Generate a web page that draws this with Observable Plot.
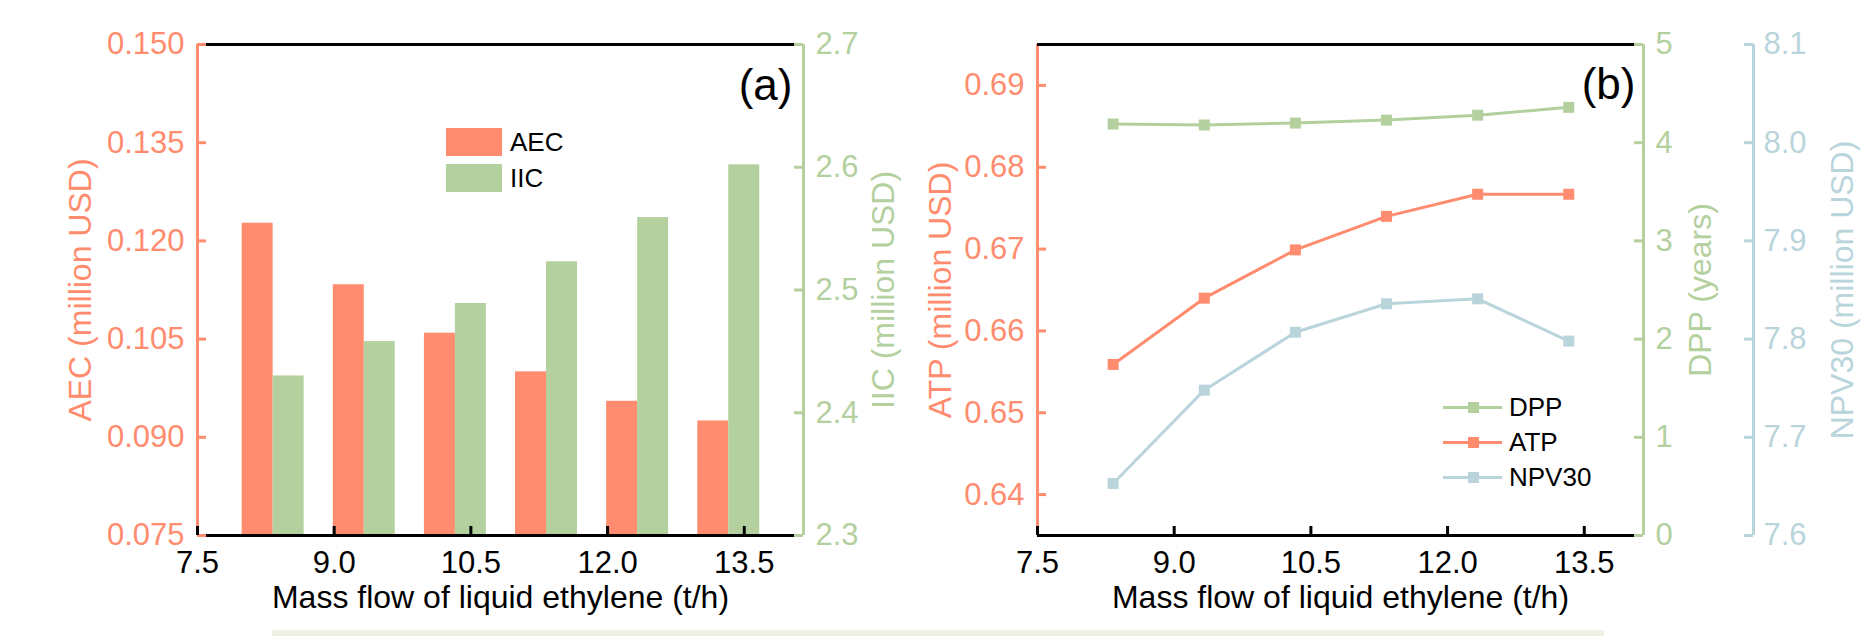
<!DOCTYPE html>
<html>
<head>
<meta charset="utf-8">
<script src="https://cdn.jsdelivr.net/npm/d3@7"></script>
<script src="https://cdn.jsdelivr.net/npm/@observablehq/plot@0.6"></script>
<style>
  body { margin: 0; background: #fff; }
  #chart { position: relative; width: 1861px; height: 636px; background: #fff; overflow: hidden;
           font-family: "Liberation Sans", Arial, sans-serif; }
  #chart svg { position: absolute; left: 0; top: 0; background: transparent !important; }
  .lg { position: absolute; font-size: 26px; line-height: 26px; color: #000; white-space: nowrap; }
  .sw { position: absolute; }
</style>
</head>
<body>
<div id="chart"></div>
<script>
// ---------------- data ----------------
const flow   = [8.33, 9.33, 10.33, 11.33, 12.33, 13.33];          // t/h
const aec    = [0.1227, 0.1133, 0.1059, 0.1000, 0.0955, 0.0925];   // million USD
const iic    = [2.430, 2.458, 2.489, 2.523, 2.559, 2.602];         // million USD
const atp    = [0.6559, 0.6640, 0.6699, 0.6740, 0.6767, 0.6767];   // million USD
const dpp    = [4.19, 4.18, 4.20, 4.23, 4.28, 4.36];               // years
const npv30  = [7.653, 7.748, 7.807, 7.836, 7.841, 7.798];         // million USD

const xTicks   = [7.5, 9.0, 10.5, 12.0, 13.5];
const aecTicks = [0.075, 0.090, 0.105, 0.120, 0.135, 0.150];
const iicTicks = [2.3, 2.4, 2.5, 2.6, 2.7];
const atpTicks = [0.64, 0.65, 0.66, 0.67, 0.68, 0.69];
const dppTicks = [0, 1, 2, 3, 4, 5];
const npvTicks = [7.6, 7.7, 7.8, 7.9, 8.0, 8.1];

const xDomain   = [7.5, 14.15];
const aecDomain = [0.075, 0.150];
const iicDomain = [2.3, 2.7];
const atpDomain = [0.635, 0.695];
const dppDomain = [0, 5];
const npvDomain = [7.6, 8.1];

const rows = flow.map((f, i) => ({flow: f, aec: aec[i], iic: iic[i], atp: atp[i], dpp: dpp[i], npv: npv30[i]}));

// ---------------- style ----------------
const SALMON = "#FF8C6E", GREEN = "#B3D09E", BLUE = "#B9D5DB";
const W = 1861, H = 636;
const FONT = "'Liberation Sans', Arial, sans-serif";
const barW = 0.34;
const TICK = 9;
const chart = document.getElementById("chart");

const PA = {marginLeft: 197, marginRight: W - 803, marginTop: 44, marginBottom: H - 535};
const PB = {marginLeft: 1037, marginRight: W - 1643, marginTop: 44, marginBottom: H - 535};
const plotW = 606, plotH = 491;

function layer(m, yDomain, marks, showX) {
  const svg = Plot.plot({
    width: W, height: H, ...m,
    x: {domain: xDomain, ...(showX ? {} : {axis: null})},
    y: {domain: yDomain},
    style: {background: "transparent", fontFamily: FONT, overflow: "visible"},
    marks
  });
  svg.style.background = "transparent";
  chart.appendChild(svg);
}

function vTitle(label, anchor, dx, color) {
  return Plot.text([label], {frameAnchor: anchor, textAnchor: "middle", lineAnchor: "middle",
                             rotate: -90, dx, fontSize: 32, fill: color, text: d => d});
}

const xAxisMarks = [
  Plot.axisX({ticks: xTicks, tickFormat: d3.format(".1f"), tickSize: 0, tickPadding: 15,
              fontSize: 31, color: "#000", label: null}),
  Plot.text(["Mass flow of liquid ethylene (t/h)"], {frameAnchor: "bottom", textAnchor: "middle",
              lineAnchor: "middle", dy: 62, fontSize: 32, fill: "#000", text: d => d})
];

// ---------------- panel (a) ----------------
layer(PA, aecDomain, [
  Plot.rectY(rows, {x1: d => d.flow - barW, x2: d => d.flow, y1: aecDomain[0], y2: "aec", fill: SALMON}),
  Plot.ruleX([xDomain[0]], {stroke: SALMON, strokeWidth: 3}),
  Plot.tickY(aecTicks, {y: d => d, stroke: SALMON, strokeWidth: 3, insetRight: plotW - TICK}),
  Plot.axisY({ticks: aecTicks, tickFormat: d3.format(".3f"), tickSize: 0, tickPadding: 13,
              fontSize: 31, color: SALMON, label: null}),
  vTitle("AEC (million USD)", "left", -117, SALMON),
  ...xAxisMarks
], true);

layer(PA, iicDomain, [
  Plot.rectY(rows, {x1: d => d.flow, x2: d => d.flow + barW, y1: iicDomain[0], y2: "iic", fill: GREEN}),
  Plot.ruleY(iicDomain, {stroke: "#000", strokeWidth: 3, insetLeft: TICK, insetRight: TICK}),
  Plot.tickX(xTicks, {x: d => d, stroke: "#000", strokeWidth: 3, insetTop: plotH - TICK}),
  Plot.ruleX([xDomain[1]], {stroke: GREEN, strokeWidth: 3}),
  Plot.tickY(iicTicks, {y: d => d, stroke: GREEN, strokeWidth: 3, insetLeft: plotW - TICK}),
  Plot.axisY({anchor: "right", ticks: iicTicks, tickFormat: d3.format(".1f"), tickSize: 0, tickPadding: 12,
              fontSize: 31, color: GREEN, label: null}),
  vTitle("IIC (million USD)", "right", 80, GREEN),
  Plot.text(["(a)"], {frameAnchor: "top-right", textAnchor: "end", lineAnchor: "bottom", dx: -11, dy: 55,
              fontSize: 44, fill: "#000", text: d => d})
], false);

// ---------------- panel (b) ----------------
layer(PB, atpDomain, [
  Plot.line(rows, {x: "flow", y: "atp", stroke: SALMON, strokeWidth: 3}),
  Plot.dot(rows, {x: "flow", y: "atp", symbol: "square", r: 6.2, fill: SALMON}),
  Plot.ruleX([xDomain[0]], {stroke: SALMON, strokeWidth: 3}),
  Plot.tickY(atpTicks, {y: d => d, stroke: SALMON, strokeWidth: 3, insetRight: plotW - TICK}),
  Plot.axisY({ticks: atpTicks, tickFormat: d3.format(".2f"), tickSize: 0, tickPadding: 13,
              fontSize: 31, color: SALMON, label: null}),
  vTitle("ATP (million USD)", "left", -97, SALMON),
  ...xAxisMarks
], true);

layer(PB, dppDomain, [
  Plot.line(rows, {x: "flow", y: "dpp", stroke: GREEN, strokeWidth: 3}),
  Plot.dot(rows, {x: "flow", y: "dpp", symbol: "square", r: 6.2, fill: GREEN}),
  Plot.ruleX([xDomain[1]], {stroke: GREEN, strokeWidth: 3}),
  Plot.tickY(dppTicks, {y: d => d, stroke: GREEN, strokeWidth: 3, insetLeft: plotW - TICK}),
  Plot.axisY({anchor: "right", ticks: dppTicks, tickFormat: d3.format("d"), tickSize: 0, tickPadding: 12,
              fontSize: 31, color: GREEN, label: null}),
  vTitle("DPP (years)", "right", 57, GREEN)
], false);

layer(PB, npvDomain, [
  Plot.line(rows, {x: "flow", y: "npv", stroke: BLUE, strokeWidth: 3}),
  Plot.dot(rows, {x: "flow", y: "npv", symbol: "square", r: 6.2, fill: BLUE}),
  Plot.ruleY(npvDomain, {stroke: "#000", strokeWidth: 3, insetRight: TICK}),
  Plot.tickX(xTicks, {x: d => d, stroke: "#000", strokeWidth: 3, insetTop: plotH - TICK}),
  Plot.ruleX([xDomain[1]], {stroke: BLUE, strokeWidth: 3, dx: 110}),
  Plot.tickY(npvTicks, {y: d => d, stroke: BLUE, strokeWidth: 3, insetLeft: plotW - TICK, dx: 110}),
  Plot.axisY({anchor: "right", ticks: npvTicks, tickFormat: d3.format(".1f"), tickSize: 0, tickPadding: 10,
              dx: 110, fontSize: 31, color: BLUE, label: null}),
  vTitle("NPV30 (million USD)", "right", 199, BLUE),
  Plot.text(["(b)"], {frameAnchor: "top-right", textAnchor: "end", lineAnchor: "bottom", dx: -8, dy: 54,
              fontSize: 44, fill: "#000", text: d => d})
], false);

// ---------------- legends (HTML) ----------------
function el(cls, css, text) {
  const d = document.createElement("div");
  d.className = cls;
  Object.assign(d.style, css);
  if (text) d.textContent = text;
  chart.appendChild(d);
}
const legendA = [["AEC", SALMON, 128], ["IIC", GREEN, 164]];
legendA.forEach(([name, c, top]) => {
  el("sw", {left: "446px", top: top + "px", width: "56px", height: "28px", background: c});
  el("lg", {left: "510px", top: (top + 1) + "px"}, name);
});
const legendB = [["DPP", GREEN, 407], ["ATP", SALMON, 442], ["NPV30", BLUE, 477]];
legendB.forEach(([name, c, cy]) => {
  el("sw", {left: "1443px", top: (cy - 1.5) + "px", width: "59px", height: "3px", background: c});
  el("sw", {left: "1467.5px", top: (cy - 5.5) + "px", width: "11px", height: "11px", background: c});
  el("lg", {left: "1509px", top: (cy - 13) + "px"}, name);
});
// light caption band at the bottom edge of the source figure
el("sw", {left: "272px", top: "630px", width: "1332px", height: "6px", background: "#EEF2E4"});
</script>
</body>
</html>
